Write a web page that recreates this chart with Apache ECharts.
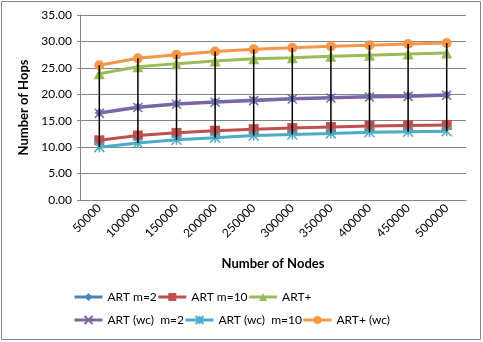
<!DOCTYPE html>
<html>
<head>
<meta charset="utf-8">
<script src="https://cdn.jsdelivr.net/npm/echarts@6/dist/echarts.min.js"></script>
<style>
  html, body { margin: 0; padding: 0; background: #fff; }
  #chart { width: 483px; height: 342px; }
</style>
</head>
<body>
<div id="chart"></div>
<script>
// data
var nodes = ["50000", "100000", "150000", "200000", "250000", "300000", "350000", "400000", "450000", "500000"];
var artM2 = [16.5, 17.6, 18.2, 18.6, 18.9, 19.2, 19.4, 19.6, 19.7, 19.9];
var artM10 = [11.3, 12.2, 12.7, 13.1, 13.4, 13.6, 13.8, 14.0, 14.1, 14.2];
var artPlus = [23.9, 25.2, 25.8, 26.3, 26.7, 26.9, 27.2, 27.4, 27.6, 27.8];
var artWcM2 = [16.4, 17.5, 18.1, 18.5, 18.8, 19.1, 19.3, 19.5, 19.6, 19.8];
var artWcM10 = [10.0, 10.8, 11.4, 11.8, 12.2, 12.4, 12.6, 12.8, 12.9, 13.0];
var artPlusWc = [25.5, 26.8, 27.5, 28.1, 28.5, 28.8, 29.1, 29.3, 29.5, 29.7];
var yTicks = [0, 5, 10, 15, 20, 25, 30, 35];

var allSeries = [artM2, artM10, artPlus, artWcM2, artWcM10, artPlusWc];
var hiLo = nodes.map(function (n, i) {
  var vals = allSeries.map(function (s) { return s[i]; });
  return [i, Math.min.apply(null, vals), Math.max.apply(null, vals)];
});

var font = "Lato, 'Liberation Sans', sans-serif";
var xPath = 'path://M0,0L10,10M10,0L0,10';
var starPath = 'path://M5,0L5,10M0,0L10,10M10,0L0,10';

function line(name, data, color, symbol, size, stroked) {
  var s = {
    name: name,
    type: 'line',
    data: data,
    symbol: symbol,
    symbolSize: size,
    lineStyle: { color: color, width: 3 },
    itemStyle: { color: color },
    z: 2
  };
  if (stroked) {
    s.itemStyle = { color: 'rgba(0,0,0,0)', borderColor: color, borderWidth: 1.5 };
  }
  return s;
}

var chart = echarts.init(document.getElementById('chart'), null, { renderer: 'canvas' });
var legendBase = {
  orient: 'horizontal',
  left: 73,
  padding: 0,
  itemGap: 0,
  itemWidth: 28,
  itemHeight: 10,
  lineStyle: { width: 3 },
  textStyle: { fontFamily: font, fontSize: 12, color: '#000', width: 81 },
  selectedMode: false
};
chart.setOption({
  animation: false,
  backgroundColor: '#fff',
  graphic: [{
    type: 'rect',
    shape: { x: 1.5, y: 1.5, width: 479, height: 338 },
    style: { fill: 'none', stroke: '#868686', lineWidth: 1 },
    silent: true
  }],
  grid: { left: 80, right: 17, top: 15, bottom: 142 },
  legend: [
    Object.assign({}, legendBase, { top: 291, data: ['ART m=2', 'ART m=10', 'ART+'] }),
    Object.assign({}, legendBase, { top: 314, data: ['ART (wc)  m=2', 'ART (wc)  m=10', 'ART+ (wc)'] })
  ],
  xAxis: {
    type: 'category',
    data: nodes,
    boundaryGap: true,
    axisLine: { lineStyle: { color: '#868686' } },
    axisTick: { show: false },
    axisLabel: { rotate: 45, fontFamily: font, fontSize: 12, color: '#000', margin: 6 },
    name: 'Number of Nodes',
    nameLocation: 'middle',
    nameGap: 57,
    nameTextStyle: { fontFamily: font, fontSize: 13, fontWeight: 'bold', color: '#000' }
  },
  yAxis: {
    type: 'value',
    min: yTicks[0],
    max: yTicks[yTicks.length - 1],
    interval: 5,
    axisLine: { show: true, lineStyle: { color: '#868686' } },
    axisTick: { show: true, length: 3, lineStyle: { color: '#868686' } },
    splitLine: { lineStyle: { color: '#868686' } },
    axisLabel: {
      fontFamily: font, fontSize: 12, color: '#000', margin: 8,
      formatter: function (v) { return v.toFixed(2); }
    },
    name: 'Number of Hops',
    nameLocation: 'middle',
    nameGap: 48,
    nameTextStyle: { fontFamily: font, fontSize: 13, fontWeight: 'bold', color: '#000' }
  },
  series: [
    line('ART m=2', artM2, '#4F81BD', 'diamond', 9),
    line('ART m=10', artM10, '#C0504D', 'rect', 10),
    line('ART+', artPlus, '#9BBB59', 'triangle', 11),
    line('ART (wc)  m=2', artWcM2, '#8064A2', xPath, 9, true),
    line('ART (wc)  m=10', artWcM10, '#4BACC6', starPath, 10, true),
    line('ART+ (wc)', artPlusWc, '#F79646', 'circle', 10),
    {
      type: 'custom',
      data: hiLo,
      z: 5,
      silent: true,
      renderItem: function (params, api) {
        var lo = api.coord([api.value(0), api.value(1)]);
        var hi = api.coord([api.value(0), api.value(2)]);
        return {
          type: 'line',
          shape: { x1: lo[0], y1: lo[1], x2: hi[0], y2: hi[1] },
          style: { stroke: '#000', lineWidth: 1.5 }
        };
      }
    }
  ]
});
</script>
</body>
</html>
